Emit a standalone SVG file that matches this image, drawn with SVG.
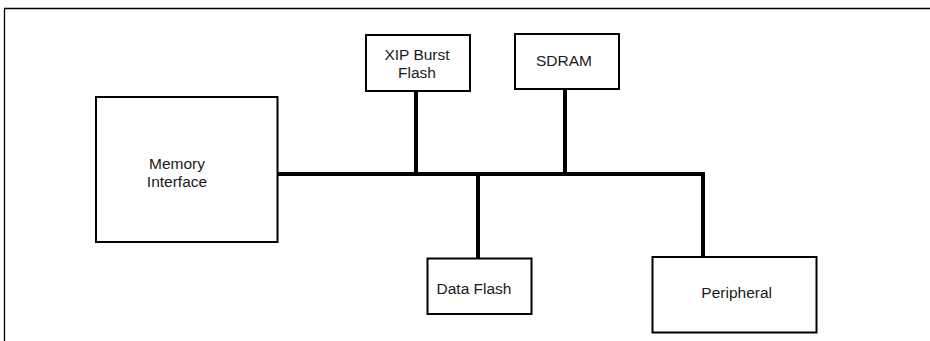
<svg xmlns="http://www.w3.org/2000/svg" width="930" height="341" viewBox="0 0 930 341">
<style>
.box{fill:#fff;stroke:#000;stroke-width:2}
.t{font-family:"Liberation Sans",Arial,sans-serif;font-size:15.5px;fill:#1a1a1a;text-anchor:middle}
.w{stroke:#000;stroke-width:4;fill:none}
</style>
<rect width="930" height="341" fill="#fff"/>
<path d="M4.5,341 V8.5 H930" fill="none" stroke="#000" stroke-width="1.3"/>
<g id="connectors">
<line class="w" x1="277" y1="174" x2="705" y2="174"/>
<line class="w" x1="416" y1="91" x2="416" y2="174"/>
<line class="w" x1="565" y1="89" x2="565" y2="174"/>
<line class="w" x1="478" y1="174" x2="478" y2="258"/>
<line class="w" x1="703" y1="172" x2="703" y2="257"/>
</g>
<g id="memory-interface">
<rect class="box" x="96" y="97" width="181.5" height="145"/>
<text class="t" x="177" y="169">Memory</text>
<text class="t" x="177" y="186.7">Interface</text>
</g>
<g id="xip-burst-flash">
<rect class="box" x="366" y="35" width="104" height="56"/>
<text class="t" x="417" y="60">XIP Burst</text>
<text class="t" x="417" y="77.7">Flash</text>
</g>
<g id="sdram">
<rect class="box" x="515" y="34" width="104" height="55"/>
<text class="t" x="564" y="66">SDRAM</text>
</g>
<g id="data-flash">
<rect class="box" x="427.5" y="258.5" width="104" height="55.5"/>
<text class="t" x="474" y="294.3">Data Flash</text>
</g>
<g id="peripheral">
<rect class="box" x="652.5" y="257" width="164" height="75.5"/>
<text class="t" x="736.7" y="297.7">Peripheral</text>
</g>
</svg>
